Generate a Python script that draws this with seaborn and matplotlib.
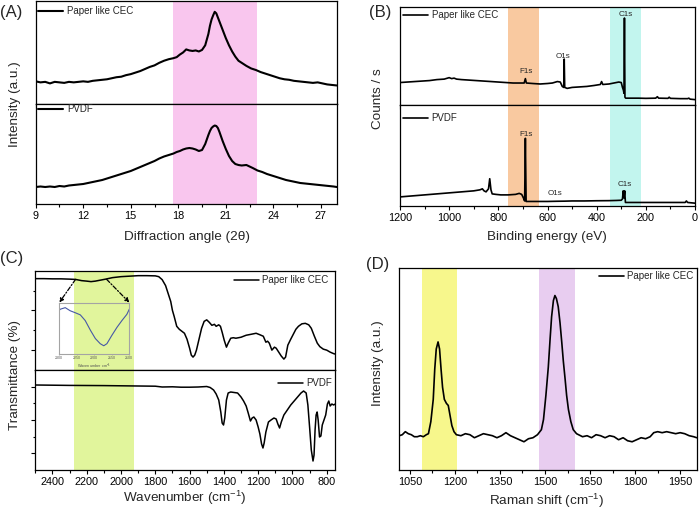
import matplotlib
matplotlib.use("Agg")
import matplotlib.pyplot as plt
from matplotlib.ticker import MultipleLocator
import seaborn as sns

# ---- (A) XRD, values (intensity as fraction of panel height) ----
xrd_angle_cec = [9.0, 9.3, 9.6, 9.9, 10.2, 10.5, 10.8, 11.1, 11.4, 11.7, 12.0, 12.3, 12.6, 12.9, 13.2,
                 13.5, 13.8, 14.1, 14.4, 14.7, 15.0, 15.3, 15.6, 15.9, 16.2, 16.5, 16.8, 17.1, 17.4,
                 17.7, 17.9, 18.1, 18.3, 18.5, 18.7, 18.9, 19.1, 19.3, 19.5, 19.7, 19.9, 20.0, 20.1,
                 20.2, 20.3, 20.4, 20.5, 20.6, 20.8, 21.0, 21.2, 21.4, 21.6, 21.8, 22.0, 22.3, 22.6,
                 22.9, 23.2, 23.5, 23.8, 24.1, 24.4, 24.7, 25.0, 25.3, 25.6, 25.9, 26.2, 26.5, 26.8,
                 27.1, 27.4, 27.7, 28.0]
xrd_int_cec = [0.22, 0.21, 0.215, 0.20, 0.215, 0.21, 0.205, 0.215, 0.21, 0.215, 0.22, 0.215, 0.225,
               0.23, 0.235, 0.24, 0.25, 0.26, 0.265, 0.28, 0.29, 0.305, 0.32, 0.34, 0.36, 0.375, 0.40,
               0.42, 0.435, 0.445, 0.455, 0.48, 0.50, 0.53, 0.52, 0.515, 0.52, 0.51, 0.525, 0.57, 0.68,
               0.76, 0.82, 0.86, 0.895, 0.88, 0.84, 0.80, 0.72, 0.64, 0.57, 0.51, 0.46, 0.42, 0.40,
               0.37, 0.345, 0.33, 0.31, 0.295, 0.28, 0.265, 0.25, 0.24, 0.235, 0.225, 0.22, 0.215,
               0.21, 0.205, 0.21, 0.20, 0.19, 0.185, 0.18]
xrd_angle_pvdf = [9.0, 9.3, 9.6, 9.9, 10.2, 10.5, 10.8, 11.1, 11.4, 11.7, 12.0, 12.3, 12.6, 12.9, 13.2,
                  13.5, 13.8, 14.1, 14.4, 14.7, 15.0, 15.3, 15.6, 15.9, 16.2, 16.5, 16.8, 17.1, 17.4,
                  17.7, 17.9, 18.1, 18.3, 18.5, 18.7, 18.9, 19.1, 19.3, 19.5, 19.7, 19.9, 20.0, 20.1,
                  20.2, 20.3, 20.4, 20.5, 20.6, 20.8, 21.0, 21.2, 21.4, 21.6, 21.8, 22.0, 22.3, 22.5,
                  22.7, 23.0, 23.3, 23.6, 23.9, 24.2, 24.5, 24.8, 25.1, 25.4, 25.7, 26.0, 26.3, 26.6,
                  26.9, 27.2, 27.5, 27.8, 28.0]
xrd_int_pvdf = [0.17, 0.175, 0.17, 0.175, 0.17, 0.18, 0.175, 0.185, 0.19, 0.195, 0.20, 0.21, 0.22,
                0.23, 0.24, 0.255, 0.27, 0.285, 0.30, 0.315, 0.33, 0.35, 0.37, 0.39, 0.41, 0.43, 0.455,
                0.475, 0.49, 0.505, 0.52, 0.53, 0.545, 0.555, 0.56, 0.555, 0.545, 0.53, 0.54, 0.60,
                0.69, 0.73, 0.76, 0.775, 0.785, 0.78, 0.76, 0.72, 0.63, 0.55, 0.48, 0.43, 0.40, 0.39,
                0.385, 0.39, 0.375, 0.36, 0.335, 0.32, 0.30, 0.285, 0.27, 0.255, 0.24, 0.23, 0.22,
                0.21, 0.205, 0.20, 0.195, 0.19, 0.185, 0.18, 0.175, 0.17]

# ---- (B) XPS survey ----
xps_be_cec = [1200, 1170, 1140, 1110, 1080, 1050, 1020, 1000, 990, 980, 970, 950, 920, 890, 860, 830,
              800, 770, 740, 710, 695, 690, 686, 660, 630, 600, 580, 560, 548, 540, 534, 532, 530,
              520, 500, 470, 440, 410, 385, 380, 375, 350, 330, 310, 300, 295, 291, 289, 287, 285,
              282, 260, 230, 200, 160, 153, 148, 110, 105, 100, 60, 30, 25, 20, 0]
xps_cts_cec = [0.23, 0.235, 0.24, 0.245, 0.25, 0.26, 0.265, 0.28, 0.27, 0.275, 0.265, 0.26, 0.255,
               0.25, 0.245, 0.24, 0.235, 0.23, 0.225, 0.225, 0.225, 0.27, 0.225, 0.22, 0.215, 0.22,
               0.225, 0.24, 0.235, 0.19, 0.18, 0.47, 0.18, 0.17, 0.18, 0.185, 0.19, 0.20, 0.21, 0.24,
               0.21, 0.215, 0.225, 0.235, 0.23, 0.18, 0.15, 0.12, 0.89, 0.08, 0.07, 0.07, 0.07,
               0.068, 0.07, 0.085, 0.07, 0.068, 0.08, 0.068, 0.065, 0.065, 0.07, 0.06, 0.055]
xps_be_pvdf = [1200, 1150, 1100, 1050, 1000, 950, 900, 875, 865, 858, 850, 840, 835, 830, 825, 810,
               790, 760, 730, 715, 705, 698, 693, 690, 687, 680, 640, 600, 560, 530, 500, 450, 400,
               350, 320, 300, 295, 292, 289, 286, 283, 270, 200, 120, 40, 35, 30, 0]
xps_cts_pvdf = [0.09, 0.10, 0.11, 0.12, 0.13, 0.14, 0.15, 0.16, 0.17, 0.15, 0.14, 0.17, 0.27, 0.16,
                0.12, 0.115, 0.11, 0.11, 0.115, 0.125, 0.115, 0.08, 0.05, 0.67, 0.045, 0.045, 0.045,
                0.045, 0.047, 0.048, 0.05, 0.05, 0.052, 0.053, 0.055, 0.057, 0.07, 0.15, 0.08, 0.15,
                0.035, 0.035, 0.035, 0.035, 0.035, 0.05, 0.035, 0.028]

# ---- (C) FTIR ----
ftir_wn_cec = [2500, 2450, 2400, 2350, 2300, 2265, 2230, 2200, 2175, 2150, 2120, 2090, 2050, 2000,
               1950, 1900, 1850, 1800, 1780, 1760, 1740, 1725, 1710, 1700, 1690, 1675, 1660, 1645,
               1630, 1615, 1600, 1590, 1580, 1570, 1560, 1545, 1530, 1515, 1500, 1485, 1470, 1455,
               1445, 1430, 1420, 1410, 1398, 1385, 1375, 1360, 1345, 1330, 1300, 1270, 1240, 1212,
               1190, 1170, 1155, 1145, 1135, 1120, 1105, 1095, 1080, 1065, 1050, 1040, 1027, 1010,
               995, 980, 965, 945, 925, 905, 890, 872, 855, 840, 820, 800, 780, 760, 750]
ftir_t_cec = [0.92, 0.92, 0.918, 0.918, 0.915, 0.912, 0.90, 0.895, 0.89, 0.895, 0.905, 0.915, 0.93,
              0.94, 0.945, 0.95, 0.95, 0.948, 0.94, 0.91, 0.85, 0.77, 0.69, 0.60, 0.54, 0.44, 0.41,
              0.39, 0.37, 0.31, 0.22, 0.15, 0.13, 0.15, 0.20, 0.31, 0.42, 0.49, 0.505, 0.48, 0.45,
              0.46, 0.44, 0.455, 0.44, 0.38, 0.30, 0.23, 0.27, 0.32, 0.325, 0.32, 0.33, 0.35, 0.36,
              0.37, 0.355, 0.34, 0.28, 0.29, 0.27, 0.20, 0.23, 0.22, 0.18, 0.14, 0.11, 0.13, 0.25,
              0.31, 0.36, 0.41, 0.44, 0.465, 0.47, 0.455, 0.42, 0.34, 0.27, 0.235, 0.21, 0.20, 0.18,
              0.165, 0.16]
ftir_wn_pvdf = [2500, 2400, 2300, 2200, 2100, 2000, 1900, 1800, 1760, 1700, 1650, 1600, 1550, 1500,
                1480, 1460, 1445, 1430, 1418, 1410, 1402, 1395, 1385, 1375, 1360, 1340, 1320, 1300,
                1285, 1270, 1258, 1245, 1235, 1225, 1212, 1200, 1190, 1180, 1172, 1165, 1155, 1140,
                1125, 1108, 1095, 1085, 1075, 1065, 1050, 1030, 1010, 990, 970, 950, 935, 920, 910,
                900, 890, 880, 874, 868, 862, 856, 850, 842, 834, 826, 816, 806, 796, 788, 780, 770,
                760, 750]
ftir_t_pvdf = [0.85, 0.848, 0.846, 0.845, 0.844, 0.842, 0.84, 0.838, 0.83, 0.832, 0.828, 0.828, 0.83,
               0.835, 0.825, 0.80, 0.76, 0.70, 0.58, 0.47, 0.45, 0.52, 0.70, 0.77, 0.78, 0.775, 0.77,
               0.73, 0.69, 0.64, 0.57, 0.49, 0.52, 0.53, 0.50, 0.43, 0.36, 0.26, 0.22, 0.27, 0.38,
               0.48, 0.50, 0.52, 0.51, 0.46, 0.42, 0.48, 0.55, 0.60, 0.65, 0.69, 0.73, 0.77, 0.79,
               0.77, 0.65, 0.43, 0.20, 0.09, 0.15, 0.40, 0.55, 0.58, 0.50, 0.33, 0.34, 0.45, 0.50,
               0.55, 0.66, 0.69, 0.64, 0.66, 0.65, 0.66]
inset_wn = [2300, 2297, 2283, 2269, 2254, 2240, 2226, 2211, 2197, 2183, 2173, 2164, 2150, 2135, 2121,
            2107, 2100]
inset_t = [0.90, 0.92, 0.95, 0.89, 0.85, 0.81, 0.70, 0.51, 0.35, 0.25, 0.21, 0.25, 0.41, 0.57, 0.70,
           0.82, 0.92]
inset_ticks = [2300, 2250, 2200, 2150, 2100]

# ---- (D) Raman ----
raman_shift = [1015, 1025, 1035, 1045, 1055, 1065, 1075, 1085, 1095, 1105, 1112, 1120, 1128, 1133,
               1138, 1144, 1149, 1154, 1159, 1165, 1172, 1178, 1184, 1190, 1197, 1205, 1220, 1235,
               1250, 1265, 1280, 1295, 1310, 1325, 1340, 1355, 1370, 1385, 1400, 1415, 1430, 1445,
               1460, 1475, 1488, 1495, 1503, 1511, 1517, 1522, 1528, 1533, 1538, 1544, 1550, 1556,
               1561, 1567, 1572, 1578, 1586, 1594, 1605, 1625, 1640, 1655, 1670, 1685, 1700, 1715,
               1730, 1745, 1760, 1775, 1790, 1805, 1820, 1835, 1850, 1862, 1875, 1890, 1905, 1920,
               1935, 1950, 1965, 1980, 1995, 2005]
raman_int = [0.17, 0.175, 0.19, 0.18, 0.175, 0.165, 0.165, 0.17, 0.165, 0.175, 0.18, 0.24, 0.35, 0.50,
             0.60, 0.635, 0.60, 0.50, 0.41, 0.35, 0.33, 0.32, 0.27, 0.22, 0.19, 0.175, 0.17, 0.18,
             0.175, 0.16, 0.17, 0.18, 0.175, 0.17, 0.16, 0.17, 0.185, 0.17, 0.16, 0.15, 0.14, 0.155,
             0.16, 0.175, 0.20, 0.25, 0.37, 0.51, 0.65, 0.76, 0.84, 0.865, 0.85, 0.81, 0.73, 0.63,
             0.54, 0.45, 0.37, 0.30, 0.24, 0.20, 0.18, 0.165, 0.17, 0.16, 0.175, 0.17, 0.16, 0.17,
             0.165, 0.15, 0.16, 0.145, 0.14, 0.15, 0.16, 0.155, 0.165, 0.185, 0.19, 0.185, 0.19,
             0.185, 0.18, 0.185, 0.18, 0.17, 0.165, 0.16]

sns.set_theme(style="ticks")
plt.rcParams["font.family"] = ["Liberation Sans", "DejaVu Sans"]
plt.rcParams["mathtext.fontset"] = "custom"
plt.rcParams["mathtext.rm"] = "Liberation Sans"
plt.rcParams["mathtext.it"] = "Liberation Sans:italic"

W, H = 700, 512
fig = plt.figure(figsize=(W / 100, H / 100), dpi=100)


def px_axes(x0, y0, x1, y1):
    # axes from pixel box (top-left origin)
    return fig.add_axes([x0 / W, 1 - y1 / H, (x1 - x0) / W, (y1 - y0) / H])


def style_axes(ax, xlim, major, minor, xlabels):
    ax.set_xlim(*xlim)
    ax.set_ylim(0, 1)
    ax.set_facecolor("white")
    ax.xaxis.set_major_locator(MultipleLocator(major))
    ax.xaxis.set_minor_locator(MultipleLocator(minor))
    ax.tick_params(axis="both", which="major", direction="out", length=3, width=0.8,
                   color="black", labelcolor="black", labelsize=7.8, pad=2.2)
    ax.tick_params(axis="both", which="minor", direction="out", length=1.8, width=0.8, color="black")
    ax.tick_params(axis="x", labelbottom=xlabels)
    ax.set_yticks([])
    for sp in ax.spines.values():
        sp.set_linewidth(0.9)
        sp.set_color("black")
    ax.set_xlabel("")
    ax.set_ylabel("")


def curve(ax, x, y, label, lw=1.1):
    sns.lineplot(x=x, y=y, ax=ax, color="black", lw=lw, label=label, estimator=None, sort=False)


def legend(ax, loc, anchor):
    ax.legend(loc=loc, bbox_to_anchor=anchor, frameon=False, fontsize=7, handlelength=2.6,
              handletextpad=0.35, borderpad=0, borderaxespad=0)


# (A)
a1 = px_axes(35.7, 1, 336.7, 104)
a2 = px_axes(35.7, 104, 336.7, 204)
for ax in (a1, a2):
    ax.axvspan(17.68, 22.94, color="#f9c6ee", lw=0, zorder=0)
curve(a1, xrd_angle_cec, xrd_int_cec, "Paper like CEC", lw=1.5)
curve(a2, xrd_angle_pvdf, xrd_int_pvdf, "PVDF", lw=1.5)
style_axes(a1, (9, 28), 3, 1.5, False)
style_axes(a2, (9, 28), 3, 1.5, True)
legend(a1, "upper left", (0.008, 0.95))
legend(a2, "upper left", (0.008, 0.995))

# (B)
b1 = px_axes(400, 7.3, 695, 105)
b2 = px_axes(400, 105, 695, 206)
for ax in (b1, b2):
    ax.axvspan(635, 762, color="#f9c9a0", lw=0, zorder=0)
    ax.axvspan(218, 346, color="#c2f5ee", lw=0, zorder=0)
curve(b1, xps_be_cec, xps_cts_cec, "Paper like CEC", lw=1.2)
curve(b2, xps_be_pvdf, xps_cts_pvdf, "PVDF", lw=1.2)
style_axes(b1, (1200, 0), 200, 100, False)
style_axes(b2, (1200, 0), 200, 100, True)
legend(b1, "upper left", (0.01, 0.97))
legend(b2, "upper left", (0.01, 0.918))
for ax, pos in ((b1, [(687, 0.34, "F1s"), (536, 0.494, "O1s"), (283, 0.93, "C1s")]),
                (b2, [(686, 0.71, "F1s"), (570, 0.126, "O1s"), (285, 0.215, "C1s")])):
    for xx, yy, t in pos:
        ax.text(xx, yy, t, ha="center", va="center", fontsize=5.8)

# (C)
c1 = px_axes(35.3, 270.7, 335.3, 370)
c2 = px_axes(35.3, 370, 335.3, 470)
for ax in (c1, c2):
    ax.axvspan(1925, 2276, color="#e1f59c", lw=0, zorder=0)
curve(c1, ftir_wn_cec, ftir_t_cec, "Paper like CEC")
curve(c2, ftir_wn_pvdf, ftir_t_pvdf, "PVDF")
style_axes(c1, (2500, 750), 200, 100, False)
style_axes(c2, (2500, 750), 200, 100, True)
c1.set_yticks([0.2, 0.6])
c1.set_yticks([0.4, 0.8], minor=True)
c2.set_yticks([0.167, 0.5, 0.833])
c2.set_yticks([0.333, 0.667], minor=True)
for ax in (c1, c2):
    ax.tick_params(axis="y", labelleft=False)
legend(c1, "upper right", (0.978, 0.957))
legend(c2, "upper right", (0.99, 0.917))

ins = px_axes(59.3, 302.5, 129.3, 354)
ins.set_facecolor("none")
sns.lineplot(x=inset_wn, y=inset_t, ax=ins, color="#4658a6", lw=0.8, estimator=None, sort=False,
             legend=False)
ins.set_xlim(2300, 2100)
ins.set_ylim(0.05, 1.05)
ins.set_xticks(inset_ticks)
ins.set_yticks([])
ins.tick_params(axis="x", length=0.8, width=0.4, color="#888888", labelsize=2.6,
                labelcolor="#555555", pad=0.8)
for sp in ins.spines.values():
    sp.set_linewidth(0.8)
    sp.set_color("#a4a4a4")
ins.set_xlabel("Wavenumber cm$^{-1}$", fontsize=2.8, color="#555555", labelpad=0.8)
ins.set_ylabel("")
for src, corner in (((2265, 0.913), (0, 1)), ((2084, 0.913), (1, 1))):
    c1.annotate("", xy=corner, xycoords=ins.transAxes, xytext=src, textcoords="data",
                arrowprops=dict(arrowstyle="-|>", color="black", lw=0.9, mutation_scale=6,
                                linestyle=(0, (3.5, 1.5, 1, 1.5)), shrinkA=0, shrinkB=0))

# (D)
d = px_axes(399.3, 268.3, 696.7, 470)
d.axvspan(1090, 1207, color="#f7f78c", lw=0, zorder=0)
d.axvspan(1480, 1599, color="#e8cdf0", lw=0, zorder=0)
curve(d, raman_shift, raman_int, "Paper like CEC", lw=1.2)
style_axes(d, (1015, 2005), 150, 75, True)
legend(d, "upper right", (0.99, 0.987))

# axis titles and panel letters
lab = dict(fontsize=9.7, ha="center", va="center")
fig.text(15 / W, 1 - 104 / H, "Intensity (a.u.)", rotation=90, **lab)
fig.text(378.3 / W, 1 - 98.3 / H, "Counts / s", rotation=90, **lab)
fig.text(15 / W, 1 - 375 / H, "Transmittance (%)", rotation=90, **lab)
fig.text(378.3 / W, 1 - 363.3 / H, "Intensity (a.u.)", rotation=90, **lab)
fig.text(186.7 / W, 1 - 236.7 / H, "Diffraction angle (2\u03b8)", **lab)
fig.text(546.7 / W, 1 - 237 / H, "Binding energy (eV)", **lab)
fig.text(185 / W, 1 - 498 / H, "Wavenumber (cm$^{-1}$)", **lab)
fig.text(546.7 / W, 1 - 501 / H, "Raman shift (cm$^{-1}$)", **lab)
for x, y, t in ((0, 13, "(A)"), (369, 13, "(B)"), (0, 258, "(C)"), (366, 265, "(D)")):
    fig.text(x / W, 1 - y / H, t, fontsize=12, ha="left", va="center")

fig.savefig("out.png", dpi=100)
